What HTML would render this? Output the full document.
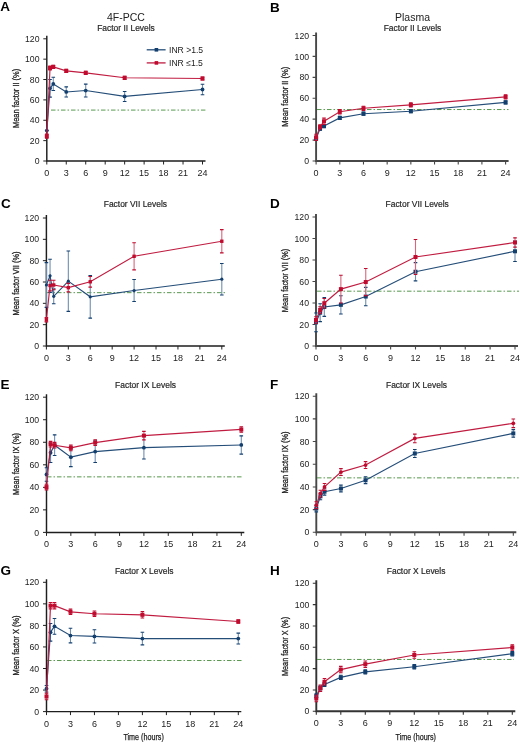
<!DOCTYPE html>
<html><head><meta charset="utf-8"><title>Factor levels</title><style>
html,body{margin:0;padding:0;background:#fff;}
svg{display:block;filter:blur(0.3px);}
text{font-family:"Liberation Sans", sans-serif;fill:#222;}
.L{font-weight:bold;font-size:13.5px;fill:#000;}
.t1{font-size:10.5px;text-anchor:middle;}
.t2{font-size:8.45px;text-anchor:middle;stroke:#333;stroke-width:0.2px;}
.yl{font-size:9.8px;stroke:#222;stroke-width:0.3px;}
.yt{font-size:8.7px;text-anchor:end;}
.xt{font-size:9px;text-anchor:middle;}
.xl{font-size:9px;stroke:#222;stroke-width:0.25px;}
.lg{font-size:8.6px;}
.ax{stroke:#1e1e1e;stroke-width:1.45;fill:none;}
.tk{stroke:#222;stroke-width:1;fill:none;}
.axr{stroke:#474747;stroke-width:1.9;fill:none;}
.tkr{stroke:#474747;stroke-width:1.1;fill:none;}
.gr{stroke:#4f9446;stroke-width:0.95;fill:none;stroke-dasharray:4.5 2 1.5 2;}
</style></head>
<body><svg width="520" height="743" viewBox="0 0 520 743">
<text x="0.2" y="11" class="L">A</text>
<text x="126" y="20.8" class="t1">4F-PCC</text>
<text x="126" y="30.9" class="t2">Factor II Levels</text>
<text transform="translate(19.1,98.4) rotate(-90)" class="yl" x="-29.6" textLength="59.2" lengthAdjust="spacingAndGlyphs">Mean factor II (%)</text>
<path d="M46.8 35.8V161H205.5" class="ax"/>
<text x="39.5" y="164.1" class="yt">0</text>
<text x="39.5" y="143.73" class="yt">20</text>
<text x="39.5" y="123.37" class="yt">40</text>
<text x="39.5" y="103" class="yt">60</text>
<text x="39.5" y="82.63" class="yt">80</text>
<text x="39.5" y="62.27" class="yt">100</text>
<text x="39.5" y="41.9" class="yt">120</text>
<text x="46.8" y="176" class="xt">0</text>
<text x="66.26" y="176" class="xt">3</text>
<text x="85.72" y="176" class="xt">6</text>
<text x="105.19" y="176" class="xt">9</text>
<text x="124.65" y="176" class="xt">12</text>
<text x="144.11" y="176" class="xt">15</text>
<text x="163.57" y="176" class="xt">18</text>
<text x="183.04" y="176" class="xt">21</text>
<text x="202.5" y="176" class="xt">24</text>
<path d="M43.3 161H46.8M43.3 140.63H46.8M43.3 120.27H46.8M43.3 99.9H46.8M43.3 79.53H46.8M43.3 59.17H46.8M43.3 38.8H46.8M46.8 161V164.5M66.26 161V164.5M85.72 161V164.5M105.19 161V164.5M124.65 161V164.5M144.11 161V164.5M163.57 161V164.5M183.04 161V164.5M202.5 161V164.5" class="tk"/>
<path d="M51 110.08H205.4" class="gr"/>
<path d="M46.8 130.55V130.55M50.04 79.43V97.15M53.29 77.29V90.53M66.26 86.87V97.05M85.72 84.12V96.95M124.65 91.45V101.43M202.5 84.32V94.71" stroke="#6f8fb0" stroke-width="1.1" fill="none"/>
<path d="M45 130.55H48.6M45 130.55H48.6M48.24 79.43H51.84M48.24 97.15H51.84M51.49 77.29H55.09M51.49 90.53H55.09M64.46 86.87H68.06M64.46 97.05H68.06M83.92 84.12H87.52M83.92 96.95H87.52M122.85 91.45H126.45M122.85 101.43H126.45M200.7 84.32H204.3M200.7 94.71H204.3" stroke="#123f6e" stroke-width="1.1" fill="none"/>
<polyline points="46.8,130.55 50.04,88.29 53.29,83.91 66.26,91.96 85.72,90.53 124.65,96.44 202.5,89.51" stroke="#244d78" stroke-width="1.15" fill="none"/>
<circle cx="46.8" cy="130.55" r="1.9" fill="#123f6e"/>
<circle cx="50.04" cy="88.29" r="1.9" fill="#123f6e"/>
<circle cx="53.29" cy="83.91" r="1.9" fill="#123f6e"/>
<circle cx="66.26" cy="91.96" r="1.9" fill="#123f6e"/>
<circle cx="85.72" cy="90.53" r="1.9" fill="#123f6e"/>
<circle cx="124.65" cy="96.44" r="1.9" fill="#123f6e"/>
<circle cx="202.5" cy="89.51" r="1.9" fill="#123f6e"/>
<path d="M46.8 134.12V138.19M50.04 65.99V70.06M53.29 65.38V68.43M66.26 69.35V72.41M85.72 71.28V74.34M124.65 76.27V79.33M202.5 76.99V80.04" stroke="#d9667d" stroke-width="1.1" fill="none"/>
<path d="M45 134.12H48.6M45 138.19H48.6M48.24 65.99H51.84M48.24 70.06H51.84M51.49 65.38H55.09M51.49 68.43H55.09M64.46 69.35H68.06M64.46 72.41H68.06M83.92 71.28H87.52M83.92 74.34H87.52M122.85 76.27H126.45M122.85 79.33H126.45M200.7 76.99H204.3M200.7 80.04H204.3" stroke="#c00a2e" stroke-width="1.1" fill="none"/>
<polyline points="46.8,136.15 50.04,68.03 53.29,66.91 66.26,70.88 85.72,72.81 124.65,77.8 202.5,78.52" stroke="#c01c40" stroke-width="1.15" fill="none"/>
<rect x="44.8" y="134.15" width="4" height="4" fill="#c00a2e"/>
<rect x="48.04" y="66.03" width="4" height="4" fill="#c00a2e"/>
<rect x="51.29" y="64.91" width="4" height="4" fill="#c00a2e"/>
<rect x="64.26" y="68.88" width="4" height="4" fill="#c00a2e"/>
<rect x="83.72" y="70.81" width="4" height="4" fill="#c00a2e"/>
<rect x="122.65" y="75.8" width="4" height="4" fill="#c00a2e"/>
<rect x="200.5" y="76.52" width="4" height="4" fill="#c00a2e"/>
<path d="M146.7 49.8H165.6" stroke="#244d78" stroke-width="1.3"/>
<rect x="154.6" y="48" width="3.6" height="3.6" fill="#123f6e"/>
<path d="M146.7 62.9H165.6" stroke="#c01c40" stroke-width="1.3"/>
<rect x="154.6" y="61.1" width="3.6" height="3.6" fill="#c00a2e"/>
<text x="169" y="53" class="lg">INR &gt;1.5</text>
<text x="169" y="66.1" class="lg">INR ≤1.5</text>
<text x="270" y="11.6" class="L">B</text>
<text x="412.5" y="20.8" class="t1">Plasma</text>
<text x="412.5" y="30.9" class="t2">Factor II Levels</text>
<text transform="translate(288.4,96.7) rotate(-90)" class="yl" x="-30" textLength="60" lengthAdjust="spacingAndGlyphs">Mean factor II (%)</text>
<path d="M316.1 32.5V161H508.6" class="axr"/>
<text x="309.1" y="164.1" class="yt">0</text>
<text x="309.1" y="143.18" class="yt">20</text>
<text x="309.1" y="122.27" class="yt">40</text>
<text x="309.1" y="101.35" class="yt">60</text>
<text x="309.1" y="80.43" class="yt">80</text>
<text x="309.1" y="59.52" class="yt">100</text>
<text x="309.1" y="38.6" class="yt">120</text>
<text x="316.1" y="176" class="xt">0</text>
<text x="339.79" y="176" class="xt">3</text>
<text x="363.48" y="176" class="xt">6</text>
<text x="387.16" y="176" class="xt">9</text>
<text x="410.85" y="176" class="xt">12</text>
<text x="434.54" y="176" class="xt">15</text>
<text x="458.23" y="176" class="xt">18</text>
<text x="481.91" y="176" class="xt">21</text>
<text x="505.6" y="176" class="xt">24</text>
<path d="M312.6 161H316.1M312.6 140.08H316.1M312.6 119.17H316.1M312.6 98.25H316.1M312.6 77.33H316.1M312.6 56.42H316.1M312.6 35.5H316.1M316.1 161V164.5M339.79 161V164.5M363.48 161V164.5M387.16 161V164.5M410.85 161V164.5M434.54 161V164.5M458.23 161V164.5M481.91 161V164.5M505.6 161V164.5" class="tkr"/>
<path d="M317 109.54H508.5" class="gr"/>
<path d="M316.1 136.95V140.08M320.05 127.12V130.25M324 124.5V127.64M339.79 116.34V119.48M363.48 112.16V115.3M410.85 109.65V112.79M505.6 100.86V104" stroke="#6f8fb0" stroke-width="1.1" fill="none"/>
<path d="M314.3 136.95H317.9M314.3 140.08H317.9M318.25 127.12H321.85M318.25 130.25H321.85M322.2 124.5H325.8M322.2 127.64H325.8M337.99 116.34H341.59M337.99 119.48H341.59M361.68 112.16H365.28M361.68 115.3H365.28M409.05 109.65H412.65M409.05 112.79H412.65M503.8 100.86H507.4M503.8 104H507.4" stroke="#123f6e" stroke-width="1.1" fill="none"/>
<polyline points="316.1,138.51 320.05,128.68 324,126.07 339.79,117.91 363.48,113.73 410.85,111.22 505.6,102.43" stroke="#244d78" stroke-width="1.15" fill="none"/>
<rect x="314.1" y="136.51" width="4" height="4" fill="#123f6e"/>
<rect x="318.05" y="126.68" width="4" height="4" fill="#123f6e"/>
<rect x="322" y="124.07" width="4" height="4" fill="#123f6e"/>
<rect x="337.79" y="115.91" width="4" height="4" fill="#123f6e"/>
<rect x="361.48" y="111.73" width="4" height="4" fill="#123f6e"/>
<rect x="408.85" y="109.22" width="4" height="4" fill="#123f6e"/>
<rect x="503.6" y="100.43" width="4" height="4" fill="#123f6e"/>
<path d="M316.1 134.23V140.5M320.05 124.81V129M324 118.12V124.4M339.79 109.65V113.83M363.48 106.2V110.38M410.85 102.85V107.03M505.6 94.8V98.98" stroke="#d9667d" stroke-width="1.1" fill="none"/>
<path d="M314.3 134.23H317.9M314.3 140.5H317.9M318.25 124.81H321.85M318.25 129H321.85M322.2 118.12H325.8M322.2 124.4H325.8M337.99 109.65H341.59M337.99 113.83H341.59M361.68 106.2H365.28M361.68 110.38H365.28M409.05 102.85H412.65M409.05 107.03H412.65M503.8 94.8H507.4M503.8 98.98H507.4" stroke="#c00a2e" stroke-width="1.1" fill="none"/>
<polyline points="316.1,137.36 320.05,126.91 324,121.26 339.79,111.74 363.48,108.29 410.85,104.94 505.6,96.89" stroke="#c01c40" stroke-width="1.15" fill="none"/>
<rect x="314.1" y="135.36" width="4" height="4" fill="#c00a2e"/>
<rect x="318.05" y="124.91" width="4" height="4" fill="#c00a2e"/>
<rect x="322" y="119.26" width="4" height="4" fill="#c00a2e"/>
<rect x="337.79" y="109.74" width="4" height="4" fill="#c00a2e"/>
<rect x="361.48" y="106.29" width="4" height="4" fill="#c00a2e"/>
<rect x="408.85" y="102.94" width="4" height="4" fill="#c00a2e"/>
<rect x="503.6" y="94.89" width="4" height="4" fill="#c00a2e"/>
<text x="1" y="207.5" class="L">C</text>
<text x="135.4" y="206.8" class="t2">Factor VII Levels</text>
<text transform="translate(18.6,283.5) rotate(-90)" class="yl" x="-32" textLength="64" lengthAdjust="spacingAndGlyphs">Mean factor VII (%)</text>
<path d="M46.4 215V346H224.8" class="ax"/>
<text x="39.1" y="349.1" class="yt">0</text>
<text x="39.1" y="327.77" class="yt">20</text>
<text x="39.1" y="306.43" class="yt">40</text>
<text x="39.1" y="285.1" class="yt">60</text>
<text x="39.1" y="263.77" class="yt">80</text>
<text x="39.1" y="242.43" class="yt">100</text>
<text x="39.1" y="221.1" class="yt">120</text>
<text x="46.4" y="361" class="xt">0</text>
<text x="68.33" y="361" class="xt">3</text>
<text x="90.25" y="361" class="xt">6</text>
<text x="112.18" y="361" class="xt">9</text>
<text x="134.1" y="361" class="xt">12</text>
<text x="156.03" y="361" class="xt">15</text>
<text x="177.95" y="361" class="xt">18</text>
<text x="199.88" y="361" class="xt">21</text>
<text x="221.8" y="361" class="xt">24</text>
<path d="M42.9 346H46.4M42.9 324.67H46.4M42.9 303.33H46.4M42.9 282H46.4M42.9 260.67H46.4M42.9 239.33H46.4M42.9 218H46.4M46.4 346V349.5M68.33 346V349.5M90.25 346V349.5M112.18 346V349.5M134.1 346V349.5M156.03 346V349.5M177.95 346V349.5M199.88 346V349.5M221.8 346V349.5" class="tk"/>
<path d="M47 292.67H225" class="gr"/>
<path d="M46.4 262.59V307.39M50.05 259.28V292.35M53.71 288.83V303.76M68.33 250.96V311.33M90.25 275.49V318.16M134.1 279.55V301.52M221.8 263.44V295.01" stroke="#6f8fb0" stroke-width="1.1" fill="none"/>
<path d="M44.6 262.59H48.2M44.6 307.39H48.2M48.25 259.28H51.85M48.25 292.35H51.85M51.91 288.83H55.51M51.91 303.76H55.51M66.53 250.96H70.12M66.53 311.33H70.12M88.45 275.49H92.05M88.45 318.16H92.05M132.3 279.55H135.9M132.3 301.52H135.9M220 263.44H223.6M220 295.01H223.6" stroke="#123f6e" stroke-width="1.1" fill="none"/>
<polyline points="46.4,284.99 50.05,275.81 53.71,296.29 68.33,281.15 90.25,296.83 134.1,290.53 221.8,279.23" stroke="#244d78" stroke-width="1.15" fill="none"/>
<circle cx="46.4" cy="284.99" r="1.61" fill="#123f6e"/>
<circle cx="50.05" cy="275.81" r="1.61" fill="#123f6e"/>
<circle cx="53.71" cy="296.29" r="1.61" fill="#123f6e"/>
<circle cx="68.33" cy="281.15" r="1.61" fill="#123f6e"/>
<circle cx="90.25" cy="296.83" r="1.61" fill="#123f6e"/>
<circle cx="134.1" cy="290.53" r="1.61" fill="#123f6e"/>
<circle cx="221.8" cy="279.23" r="1.61" fill="#123f6e"/>
<path d="M46.4 317.63V321.89M50.05 280.19V290.85M53.71 280.19V289.79M68.33 283.39V291.92M90.25 276.45V287.12M134.1 242.75V269.84M221.8 229.63V252.88" stroke="#d9667d" stroke-width="1.1" fill="none"/>
<path d="M44.6 317.63H48.2M44.6 321.89H48.2M48.25 280.19H51.85M48.25 290.85H51.85M51.91 280.19H55.51M51.91 289.79H55.51M66.53 283.39H70.12M66.53 291.92H70.12M88.45 276.45H92.05M88.45 287.12H92.05M132.3 242.75H135.9M132.3 269.84H135.9M220 229.63H223.6M220 252.88H223.6" stroke="#c00a2e" stroke-width="1.1" fill="none"/>
<polyline points="46.4,319.76 50.05,285.52 53.71,284.99 68.33,287.65 90.25,281.79 134.1,256.29 221.8,241.25" stroke="#c01c40" stroke-width="1.15" fill="none"/>
<rect x="44.7" y="318.06" width="3.4" height="3.4" fill="#c00a2e"/>
<rect x="48.35" y="283.82" width="3.4" height="3.4" fill="#c00a2e"/>
<rect x="52.01" y="283.29" width="3.4" height="3.4" fill="#c00a2e"/>
<rect x="66.62" y="285.95" width="3.4" height="3.4" fill="#c00a2e"/>
<rect x="88.55" y="280.09" width="3.4" height="3.4" fill="#c00a2e"/>
<rect x="132.4" y="254.59" width="3.4" height="3.4" fill="#c00a2e"/>
<rect x="220.1" y="239.55" width="3.4" height="3.4" fill="#c00a2e"/>
<text x="270" y="207.8" class="L">D</text>
<text x="417.2" y="206.8" class="t2">Factor VII Levels</text>
<text transform="translate(288.4,280.5) rotate(-90)" class="yl" x="-31.65" textLength="63.3" lengthAdjust="spacingAndGlyphs">Mean factor VII (%)</text>
<path d="M316 214V346H518" class="axr"/>
<text x="309" y="349.1" class="yt">0</text>
<text x="309" y="327.6" class="yt">20</text>
<text x="309" y="306.1" class="yt">40</text>
<text x="309" y="284.6" class="yt">60</text>
<text x="309" y="263.1" class="yt">80</text>
<text x="309" y="241.6" class="yt">100</text>
<text x="309" y="220.1" class="yt">120</text>
<text x="316" y="361" class="xt">0</text>
<text x="340.88" y="361" class="xt">3</text>
<text x="365.75" y="361" class="xt">6</text>
<text x="390.62" y="361" class="xt">9</text>
<text x="415.5" y="361" class="xt">12</text>
<text x="440.38" y="361" class="xt">15</text>
<text x="465.25" y="361" class="xt">18</text>
<text x="490.12" y="361" class="xt">21</text>
<text x="515" y="361" class="xt">24</text>
<path d="M312.5 346H316M312.5 324.5H316M312.5 303H316M312.5 281.5H316M312.5 260H316M312.5 238.5H316M312.5 217H316M316 346V349.5M340.88 346V349.5M365.75 346V349.5M390.62 346V349.5M415.5 346V349.5M440.38 346V349.5M465.25 346V349.5M490.12 346V349.5M515 346V349.5" class="tkr"/>
<path d="M317 291.18H519" class="gr"/>
<path d="M316 313V331.7M320.15 303.75V321.6M324.29 297.62V316.33M340.88 295.69V313.97M365.75 287.41V305.69M415.5 262.58V280.86M515 241.08V261.5" stroke="#6f8fb0" stroke-width="1.1" fill="none"/>
<path d="M314.2 313H317.8M314.2 331.7H317.8M318.35 303.75H321.95M318.35 321.6H321.95M322.49 297.62H326.09M322.49 316.33H326.09M339.07 295.69H342.68M339.07 313.97H342.68M363.95 287.41H367.55M363.95 305.69H367.55M413.7 262.58H417.3M413.7 280.86H417.3M513.2 241.08H516.8M513.2 261.5H516.8" stroke="#123f6e" stroke-width="1.1" fill="none"/>
<polyline points="316,322.35 320.15,312.68 324.29,306.98 340.88,304.83 365.75,296.55 415.5,271.72 515,251.29" stroke="#244d78" stroke-width="1.15" fill="none"/>
<rect x="314" y="320.35" width="4" height="4" fill="#123f6e"/>
<rect x="318.15" y="310.68" width="4" height="4" fill="#123f6e"/>
<rect x="322.29" y="304.98" width="4" height="4" fill="#123f6e"/>
<rect x="338.88" y="302.83" width="4" height="4" fill="#123f6e"/>
<rect x="363.75" y="294.55" width="4" height="4" fill="#123f6e"/>
<rect x="413.5" y="269.72" width="4" height="4" fill="#123f6e"/>
<rect x="513" y="249.29" width="4" height="4" fill="#123f6e"/>
<path d="M316 316.76V323.21M320.15 306.76V313.21M324.29 298.49V307.94M340.88 275.26V303M365.75 268.49V295.58M415.5 239.47V274.51M515 237.86V247.1" stroke="#d9667d" stroke-width="1.1" fill="none"/>
<path d="M314.2 316.76H317.8M314.2 323.21H317.8M318.35 306.76H321.95M318.35 313.21H321.95M322.49 298.49H326.09M322.49 307.94H326.09M339.07 275.26H342.68M339.07 303H342.68M363.95 268.49H367.55M363.95 295.58H367.55M413.7 239.47H417.3M413.7 274.51H417.3M513.2 237.86H516.8M513.2 247.1H516.8" stroke="#c00a2e" stroke-width="1.1" fill="none"/>
<polyline points="316,319.99 320.15,309.99 324.29,303.22 340.88,289.13 365.75,282.04 415.5,256.99 515,242.48" stroke="#c01c40" stroke-width="1.15" fill="none"/>
<rect x="314" y="317.99" width="4" height="4" fill="#c00a2e"/>
<rect x="318.15" y="307.99" width="4" height="4" fill="#c00a2e"/>
<rect x="322.29" y="301.22" width="4" height="4" fill="#c00a2e"/>
<rect x="338.88" y="287.13" width="4" height="4" fill="#c00a2e"/>
<rect x="363.75" y="280.04" width="4" height="4" fill="#c00a2e"/>
<rect x="413.5" y="254.99" width="4" height="4" fill="#c00a2e"/>
<rect x="513" y="240.48" width="4" height="4" fill="#c00a2e"/>
<text x="0.6" y="388.8" class="L">E</text>
<text x="145.6" y="387.5" class="t2">Factor IX Levels</text>
<text transform="translate(19,463.9) rotate(-90)" class="yl" x="-31" textLength="62" lengthAdjust="spacingAndGlyphs">Mean factor IX (%)</text>
<path d="M46.5 394.2V532.4H244.3" class="ax"/>
<text x="39.2" y="535.5" class="yt">0</text>
<text x="39.2" y="512.97" class="yt">20</text>
<text x="39.2" y="490.43" class="yt">40</text>
<text x="39.2" y="467.9" class="yt">60</text>
<text x="39.2" y="445.37" class="yt">80</text>
<text x="39.2" y="422.83" class="yt">100</text>
<text x="39.2" y="400.3" class="yt">120</text>
<text x="46.5" y="547.4" class="xt">0</text>
<text x="70.85" y="547.4" class="xt">3</text>
<text x="95.2" y="547.4" class="xt">6</text>
<text x="119.55" y="547.4" class="xt">9</text>
<text x="143.9" y="547.4" class="xt">12</text>
<text x="168.25" y="547.4" class="xt">15</text>
<text x="192.6" y="547.4" class="xt">18</text>
<text x="216.95" y="547.4" class="xt">21</text>
<text x="241.3" y="547.4" class="xt">24</text>
<path d="M43 532.4H46.5M43 509.87H46.5M43 487.33H46.5M43 464.8H46.5M43 442.27H46.5M43 419.73H46.5M43 397.2H46.5M46.5 532.4V535.9M70.85 532.4V535.9M95.2 532.4V535.9M119.55 532.4V535.9M143.9 532.4V535.9M168.25 532.4V535.9M192.6 532.4V535.9M216.95 532.4V535.9M241.3 532.4V535.9" class="tk"/>
<path d="M47 476.86H243.3" class="gr"/>
<path d="M46.5 467.73V481.25M50.56 443.06V462.43M54.62 434.83V455.56M70.85 447.67V466.6M95.2 440.69V462.55M143.9 436.41V458.94M241.3 435.84V454.1" stroke="#6f8fb0" stroke-width="1.1" fill="none"/>
<path d="M44.7 467.73H48.3M44.7 481.25H48.3M48.76 443.06H52.36M48.76 462.43H52.36M52.82 434.83H56.42M52.82 455.56H56.42M69.05 447.67H72.65M69.05 466.6H72.65M93.4 440.69H97M93.4 462.55H97M142.1 436.41H145.7M142.1 458.94H145.7M239.5 435.84H243.1M239.5 454.1H243.1" stroke="#123f6e" stroke-width="1.1" fill="none"/>
<polyline points="46.5,474.49 50.56,452.74 54.62,445.2 70.85,457.14 95.2,451.62 143.9,447.67 241.3,444.97" stroke="#244d78" stroke-width="1.15" fill="none"/>
<circle cx="46.5" cy="474.49" r="1.9" fill="#123f6e"/>
<circle cx="50.56" cy="452.74" r="1.9" fill="#123f6e"/>
<circle cx="54.62" cy="445.2" r="1.9" fill="#123f6e"/>
<circle cx="70.85" cy="457.14" r="1.9" fill="#123f6e"/>
<circle cx="95.2" cy="451.62" r="1.9" fill="#123f6e"/>
<circle cx="143.9" cy="447.67" r="1.9" fill="#123f6e"/>
<circle cx="241.3" cy="444.97" r="1.9" fill="#123f6e"/>
<path d="M46.5 484.29V489.92M50.56 441.37V447M54.62 442.38V448.01M70.85 445.08V450.72M95.2 439.79V445.42M143.9 431.34V439.9M241.3 426.72V432.13" stroke="#d9667d" stroke-width="1.1" fill="none"/>
<path d="M44.7 484.29H48.3M44.7 489.92H48.3M48.76 441.37H52.36M48.76 447H52.36M52.82 442.38H56.42M52.82 448.01H56.42M69.05 445.08H72.65M69.05 450.72H72.65M93.4 439.79H97M93.4 445.42H97M142.1 431.34H145.7M142.1 439.9H145.7M239.5 426.72H243.1M239.5 432.13H243.1" stroke="#c00a2e" stroke-width="1.1" fill="none"/>
<polyline points="46.5,487.11 50.56,444.18 54.62,445.2 70.85,447.9 95.2,442.6 143.9,435.62 241.3,429.42" stroke="#c01c40" stroke-width="1.15" fill="none"/>
<rect x="44.5" y="485.11" width="4" height="4" fill="#c00a2e"/>
<rect x="48.56" y="442.18" width="4" height="4" fill="#c00a2e"/>
<rect x="52.62" y="443.2" width="4" height="4" fill="#c00a2e"/>
<rect x="68.85" y="445.9" width="4" height="4" fill="#c00a2e"/>
<rect x="93.2" y="440.6" width="4" height="4" fill="#c00a2e"/>
<rect x="141.9" y="433.62" width="4" height="4" fill="#c00a2e"/>
<rect x="239.3" y="427.42" width="4" height="4" fill="#c00a2e"/>
<text x="270" y="388.6" class="L">F</text>
<text x="416.5" y="387.5" class="t2">Factor IX Levels</text>
<text transform="translate(288.4,462.5) rotate(-90)" class="yl" x="-31" textLength="62" lengthAdjust="spacingAndGlyphs">Mean factor IX (%)</text>
<path d="M316.3 393.2V532.3H516.3" class="axr"/>
<text x="309.3" y="535.4" class="yt">0</text>
<text x="309.3" y="512.72" class="yt">20</text>
<text x="309.3" y="490.03" class="yt">40</text>
<text x="309.3" y="467.35" class="yt">60</text>
<text x="309.3" y="444.67" class="yt">80</text>
<text x="309.3" y="421.98" class="yt">100</text>
<text x="309.3" y="399.3" class="yt">120</text>
<text x="316.3" y="547.3" class="xt">0</text>
<text x="340.93" y="547.3" class="xt">3</text>
<text x="365.55" y="547.3" class="xt">6</text>
<text x="390.18" y="547.3" class="xt">9</text>
<text x="414.8" y="547.3" class="xt">12</text>
<text x="439.42" y="547.3" class="xt">15</text>
<text x="464.05" y="547.3" class="xt">18</text>
<text x="488.67" y="547.3" class="xt">21</text>
<text x="513.3" y="547.3" class="xt">24</text>
<path d="M312.8 532.3H316.3M312.8 509.62H316.3M312.8 486.93H316.3M312.8 464.25H316.3M312.8 441.57H316.3M312.8 418.88H316.3M312.8 396.2H316.3M316.3 532.3V535.8M340.93 532.3V535.8M365.55 532.3V535.8M390.18 532.3V535.8M414.8 532.3V535.8M439.42 532.3V535.8M464.05 532.3V535.8M488.67 532.3V535.8M513.3 532.3V535.8" class="tkr"/>
<path d="M317 477.86H518.75" class="gr"/>
<path d="M316.3 505.08V511.88M320.4 492.94V499.75M324.51 488.29V495.1M340.93 485.12V491.92M365.55 476.84V483.64M414.8 449.51V457.44M513.3 429.66V437.14" stroke="#6f8fb0" stroke-width="1.1" fill="none"/>
<path d="M314.5 505.08H318.1M314.5 511.88H318.1M318.6 492.94H322.2M318.6 499.75H322.2M322.71 488.29H326.31M322.71 495.1H326.31M339.12 485.12H342.73M339.12 491.92H342.73M363.75 476.84H367.35M363.75 483.64H367.35M413 449.51H416.6M413 457.44H416.6M511.5 429.66H515.1M511.5 437.14H515.1" stroke="#123f6e" stroke-width="1.1" fill="none"/>
<polyline points="316.3,508.48 320.4,496.35 324.51,491.7 340.93,488.52 365.55,480.24 414.8,453.48 513.3,433.4" stroke="#244d78" stroke-width="1.15" fill="none"/>
<rect x="314.3" y="506.48" width="4" height="4" fill="#123f6e"/>
<rect x="318.4" y="494.35" width="4" height="4" fill="#123f6e"/>
<rect x="322.51" y="489.7" width="4" height="4" fill="#123f6e"/>
<rect x="338.93" y="486.52" width="4" height="4" fill="#123f6e"/>
<rect x="363.55" y="478.24" width="4" height="4" fill="#123f6e"/>
<rect x="412.8" y="451.48" width="4" height="4" fill="#123f6e"/>
<rect x="511.3" y="431.4" width="4" height="4" fill="#123f6e"/>
<path d="M316.3 501.79V508.6M320.4 490.22V497.03M324.51 483.53V490.34M340.93 468.67V475.48M365.55 461.64V468.45M414.8 434.08V442.7M513.3 419V427.62" stroke="#d9667d" stroke-width="1.1" fill="none"/>
<path d="M314.5 501.79H318.1M314.5 508.6H318.1M318.6 490.22H322.2M318.6 497.03H322.2M322.71 483.53H326.31M322.71 490.34H326.31M339.12 468.67H342.73M339.12 475.48H342.73M363.75 461.64H367.35M363.75 468.45H367.35M413 434.08H416.6M413 442.7H416.6M511.5 419H515.1M511.5 427.62H515.1" stroke="#c00a2e" stroke-width="1.1" fill="none"/>
<polyline points="316.3,505.19 320.4,493.62 324.51,486.93 340.93,472.08 365.55,465.04 414.8,438.39 513.3,423.31" stroke="#c01c40" stroke-width="1.15" fill="none"/>
<circle cx="316.3" cy="505.19" r="1.9" fill="#c00a2e"/>
<circle cx="320.4" cy="493.62" r="1.9" fill="#c00a2e"/>
<circle cx="324.51" cy="486.93" r="1.9" fill="#c00a2e"/>
<circle cx="340.93" cy="472.08" r="1.9" fill="#c00a2e"/>
<circle cx="365.55" cy="465.04" r="1.9" fill="#c00a2e"/>
<circle cx="414.8" cy="438.39" r="1.9" fill="#c00a2e"/>
<circle cx="513.3" cy="423.31" r="1.9" fill="#c00a2e"/>
<text x="0.6" y="575.2" class="L">G</text>
<text x="144.2" y="573.6" class="t2">Factor X Levels</text>
<text transform="translate(19,645.5) rotate(-90)" class="yl" x="-30" textLength="60" lengthAdjust="spacingAndGlyphs">Mean factor X (%)</text>
<path d="M46.5 579.3V711.6H241.3" class="ax"/>
<text x="39.2" y="714.7" class="yt">0</text>
<text x="39.2" y="693.15" class="yt">20</text>
<text x="39.2" y="671.6" class="yt">40</text>
<text x="39.2" y="650.05" class="yt">60</text>
<text x="39.2" y="628.5" class="yt">80</text>
<text x="39.2" y="606.95" class="yt">100</text>
<text x="39.2" y="585.4" class="yt">120</text>
<text x="46.5" y="726.6" class="xt">0</text>
<text x="70.48" y="726.6" class="xt">3</text>
<text x="94.45" y="726.6" class="xt">6</text>
<text x="118.42" y="726.6" class="xt">9</text>
<text x="142.4" y="726.6" class="xt">12</text>
<text x="166.38" y="726.6" class="xt">15</text>
<text x="190.35" y="726.6" class="xt">18</text>
<text x="214.33" y="726.6" class="xt">21</text>
<text x="238.3" y="726.6" class="xt">24</text>
<path d="M43 711.6H46.5M43 690.05H46.5M43 668.5H46.5M43 646.95H46.5M43 625.4H46.5M43 603.85H46.5M43 582.3H46.5M46.5 711.6V715.1M70.48 711.6V715.1M94.45 711.6V715.1M118.42 711.6V715.1M142.4 711.6V715.1M166.38 711.6V715.1M190.35 711.6V715.1M214.33 711.6V715.1M238.3 711.6V715.1" class="tk"/>
<text x="123.4" y="739.6" class="xl" textLength="40.4" lengthAdjust="spacingAndGlyphs">Time (hours)</text>
<path d="M47 660.53H242" class="gr"/>
<path d="M46.5 685.52V691.99M50.5 623.46V641.13M54.49 618.5V634.24M70.48 628.2V642.86M94.45 629.71V643.07M142.4 632.19V644.9M238.3 633.16V643.93" stroke="#6f8fb0" stroke-width="1.1" fill="none"/>
<path d="M44.7 685.52H48.3M44.7 691.99H48.3M48.7 623.46H52.3M48.7 641.13H52.3M52.69 618.5H56.29M52.69 634.24H56.29M68.68 628.2H72.28M68.68 642.86H72.28M92.65 629.71H96.25M92.65 643.07H96.25M140.6 632.19H144.2M140.6 644.9H144.2M236.5 633.16H240.1M236.5 643.93H240.1" stroke="#123f6e" stroke-width="1.1" fill="none"/>
<polyline points="46.5,688.76 50.5,632.3 54.49,626.37 70.48,635.53 94.45,636.39 142.4,638.55 238.3,638.55" stroke="#244d78" stroke-width="1.15" fill="none"/>
<circle cx="46.5" cy="688.76" r="1.9" fill="#123f6e"/>
<circle cx="50.5" cy="632.3" r="1.9" fill="#123f6e"/>
<circle cx="54.49" cy="626.37" r="1.9" fill="#123f6e"/>
<circle cx="70.48" cy="635.53" r="1.9" fill="#123f6e"/>
<circle cx="94.45" cy="636.39" r="1.9" fill="#123f6e"/>
<circle cx="142.4" cy="638.55" r="1.9" fill="#123f6e"/>
<circle cx="238.3" cy="638.55" r="1.9" fill="#123f6e"/>
<path d="M46.5 693.28V699.75M50.5 602.45V608.91M54.49 602.45V608.91M70.48 609.13V614.52M94.45 611.07V616.46M142.4 611.61V618.07M238.3 619.9V623.14" stroke="#d9667d" stroke-width="1.1" fill="none"/>
<path d="M44.7 693.28H48.3M44.7 699.75H48.3M48.7 602.45H52.3M48.7 608.91H52.3M52.69 602.45H56.29M52.69 608.91H56.29M68.68 609.13H72.28M68.68 614.52H72.28M92.65 611.07H96.25M92.65 616.46H96.25M140.6 611.61H144.2M140.6 618.07H144.2M236.5 619.9H240.1M236.5 623.14H240.1" stroke="#c00a2e" stroke-width="1.1" fill="none"/>
<polyline points="46.5,696.51 50.5,605.68 54.49,605.68 70.48,611.82 94.45,613.76 142.4,614.84 238.3,621.52" stroke="#c01c40" stroke-width="1.15" fill="none"/>
<rect x="44.5" y="694.51" width="4" height="4" fill="#c00a2e"/>
<rect x="48.5" y="603.68" width="4" height="4" fill="#c00a2e"/>
<rect x="52.49" y="603.68" width="4" height="4" fill="#c00a2e"/>
<rect x="68.48" y="609.82" width="4" height="4" fill="#c00a2e"/>
<rect x="92.45" y="611.76" width="4" height="4" fill="#c00a2e"/>
<rect x="140.4" y="612.84" width="4" height="4" fill="#c00a2e"/>
<rect x="236.3" y="619.52" width="4" height="4" fill="#c00a2e"/>
<text x="270" y="574.6" class="L">H</text>
<text x="416.1" y="573.9" class="t2">Factor X Levels</text>
<text transform="translate(288.4,646.5) rotate(-90)" class="yl" x="-29.6" textLength="59.2" lengthAdjust="spacingAndGlyphs">Mean factor X (%)</text>
<path d="M316.3 580.3V711.3H515.3" class="axr" style="stroke:#333"/>
<text x="309.3" y="714.4" class="yt">0</text>
<text x="309.3" y="693.07" class="yt">20</text>
<text x="309.3" y="671.73" class="yt">40</text>
<text x="309.3" y="650.4" class="yt">60</text>
<text x="309.3" y="629.07" class="yt">80</text>
<text x="309.3" y="607.73" class="yt">100</text>
<text x="309.3" y="586.4" class="yt">120</text>
<text x="316.3" y="726.3" class="xt">0</text>
<text x="340.8" y="726.3" class="xt">3</text>
<text x="365.3" y="726.3" class="xt">6</text>
<text x="389.8" y="726.3" class="xt">9</text>
<text x="414.3" y="726.3" class="xt">12</text>
<text x="438.8" y="726.3" class="xt">15</text>
<text x="463.3" y="726.3" class="xt">18</text>
<text x="487.8" y="726.3" class="xt">21</text>
<text x="512.3" y="726.3" class="xt">24</text>
<path d="M312.8 711.3H316.3M312.8 689.97H316.3M312.8 668.63H316.3M312.8 647.3H316.3M312.8 625.97H316.3M312.8 604.63H316.3M312.8 583.3H316.3M316.3 711.3V714.8M340.8 711.3V714.8M365.3 711.3V714.8M389.8 711.3V714.8M414.3 711.3V714.8M438.8 711.3V714.8M463.3 711.3V714.8M487.8 711.3V714.8M512.3 711.3V714.8" class="tkr" style="stroke:#333"/>
<text x="395.6" y="739.6" class="xl" textLength="40.4" lengthAdjust="spacingAndGlyphs">Time (hours)</text>
<path d="M317 659.46H514" class="gr"/>
<path d="M316.3 693.81V698.07M320.38 685.7V689.97M324.47 682.29V686.55M340.8 675.25V679.51M365.3 669.81V674.07M414.3 664.58V668.85M512.3 651.57V655.83" stroke="#6f8fb0" stroke-width="1.1" fill="none"/>
<path d="M314.5 693.81H318.1M314.5 698.07H318.1M318.58 685.7H322.18M318.58 689.97H322.18M322.67 682.29H326.27M322.67 686.55H326.27M339 675.25H342.6M339 679.51H342.6M363.5 669.81H367.1M363.5 674.07H367.1M412.5 664.58H416.1M412.5 668.85H416.1M510.5 651.57H514.1M510.5 655.83H514.1" stroke="#123f6e" stroke-width="1.1" fill="none"/>
<polyline points="316.3,695.94 320.38,687.83 324.47,684.42 340.8,677.38 365.3,671.94 414.3,666.71 512.3,653.7" stroke="#244d78" stroke-width="1.15" fill="none"/>
<rect x="314.3" y="693.94" width="4" height="4" fill="#123f6e"/>
<rect x="318.38" y="685.83" width="4" height="4" fill="#123f6e"/>
<rect x="322.47" y="682.42" width="4" height="4" fill="#123f6e"/>
<rect x="338.8" y="675.38" width="4" height="4" fill="#123f6e"/>
<rect x="363.3" y="669.94" width="4" height="4" fill="#123f6e"/>
<rect x="412.3" y="664.71" width="4" height="4" fill="#123f6e"/>
<rect x="510.3" y="651.7" width="4" height="4" fill="#123f6e"/>
<path d="M316.3 695.3V701.7M320.38 684.95V691.35M324.47 678.55V684.95M340.8 666.39V672.79M365.3 660.95V667.35M414.3 651.78V658.18M512.3 644.85V650.18" stroke="#d9667d" stroke-width="1.1" fill="none"/>
<path d="M314.5 695.3H318.1M314.5 701.7H318.1M318.58 684.95H322.18M318.58 691.35H322.18M322.67 678.55H326.27M322.67 684.95H326.27M339 666.39H342.6M339 672.79H342.6M363.5 660.95H367.1M363.5 667.35H367.1M412.5 651.78H416.1M412.5 658.18H416.1M510.5 644.85H514.1M510.5 650.18H514.1" stroke="#c00a2e" stroke-width="1.1" fill="none"/>
<polyline points="316.3,698.5 320.38,688.15 324.47,681.75 340.8,669.59 365.3,664.15 414.3,654.98 512.3,647.51" stroke="#c01c40" stroke-width="1.15" fill="none"/>
<rect x="314.3" y="696.5" width="4" height="4" fill="#c00a2e"/>
<rect x="318.38" y="686.15" width="4" height="4" fill="#c00a2e"/>
<rect x="322.47" y="679.75" width="4" height="4" fill="#c00a2e"/>
<rect x="338.8" y="667.59" width="4" height="4" fill="#c00a2e"/>
<rect x="363.3" y="662.15" width="4" height="4" fill="#c00a2e"/>
<rect x="412.3" y="652.98" width="4" height="4" fill="#c00a2e"/>
<rect x="510.3" y="645.51" width="4" height="4" fill="#c00a2e"/>
</svg></body></html>
